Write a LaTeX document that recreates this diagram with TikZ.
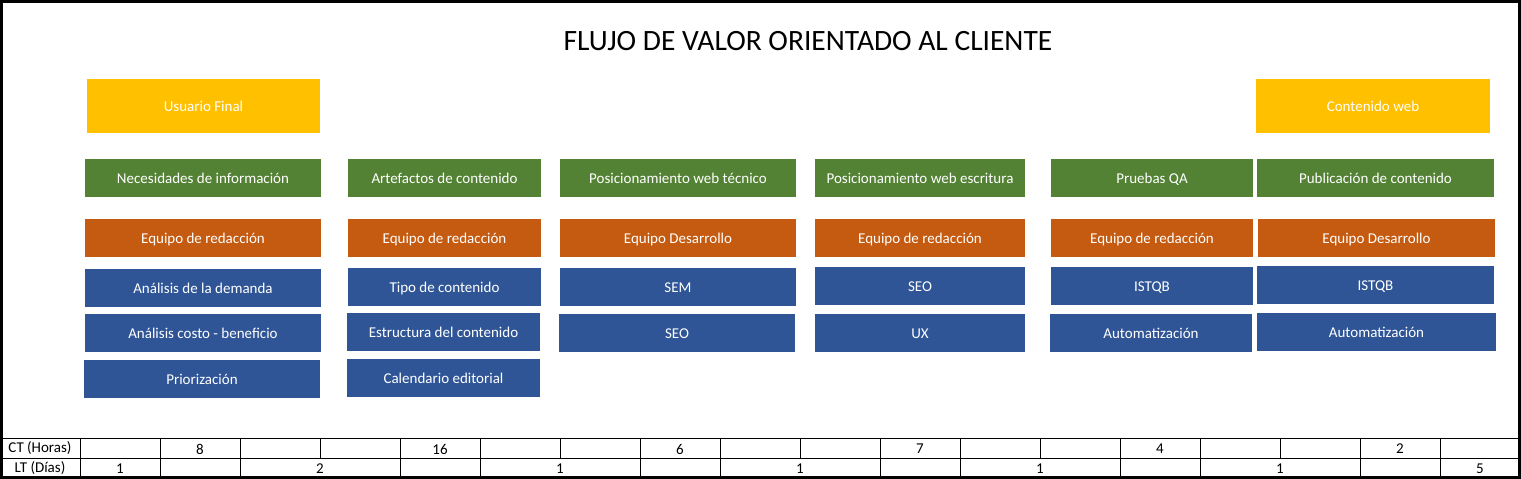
\documentclass[tikz,border=0pt]{standalone}
\usepackage{fontspec}
\setmainfont{Carlito}
\usetikzlibrary{positioning, calc}

\definecolor{amarillo}{RGB}{255,192,0}
\definecolor{verde}{RGB}{84,130,53}
\definecolor{naranja}{RGB}{197,90,17}
\definecolor{azul}{RGB}{47,85,151}

\tikzset{
	caja/.style={inner sep=0pt, text=white, text height=10pt, text depth=0pt,
		font=\fontsize{15}{17}\selectfont},
	cajaamarilla/.style={caja, fill=amarillo},
	cajaverde/.style={caja, fill=verde},
	cajanaranja/.style={caja, fill=naranja},
	cajaazul/.style={caja, fill=azul},
	celda/.style={inner sep=0pt, font=\fontsize{15}{17}\selectfont}
}

% \caja{estilo}{nombre}{x1}{y1}{x2}{y2}{texto}
\newcommand{\caja}[7]{%
	\pgfmathsetmacro\cw{#5-#3}\pgfmathsetmacro\ch{#6-#4}%
	\node [#1, minimum width=\cw pt, minimum height=\ch pt] (#2) at ({(#3+#5)/2},{(#4+#6)/2}) {#7};%
}

\begin{document}
\begin{tikzpicture}[x=1pt, y=-1pt]
\useasboundingbox (0,0) rectangle (1521,479);

\node [font=\fontsize{29.5}{34}\selectfont] (titulo) at (808,41.5) {FLUJO DE VALOR ORIENTADO AL CLIENTE};

\def\xa{85}\def\xb{321}
	\caja{cajaamarilla}{usuario}{87}{79}{320}{133}{Usuario Final}
	\caja{cajaverde}{necesidades}{\xa}{159}{\xb}{197}{Necesidades de información}
	\caja{cajanaranja}{equipoa}{\xa}{219}{\xb}{257}{Equipo de redacción}
	\caja{cajaazul}{demanda}{\xa}{269}{\xb}{307}{Análisis de la demanda}
	\caja{cajaazul}{costo}{\xa}{314}{\xb}{352}{Análisis costo - beneficio}
	\caja{cajaazul}{priorizacion}{84}{360}{320}{398}{Priorización}

\def\xa{348}\def\xb{541}
	\caja{cajaverde}{artefactos}{\xa}{159}{\xb}{197}{Artefactos de contenido}
	\caja{cajanaranja}{equipob}{\xa}{219}{\xb}{257}{Equipo de redacción}
	\caja{cajaazul}{tipo}{\xa}{268}{\xb}{306}{Tipo de contenido}
	\caja{cajaazul}{estructura}{347}{313}{540}{351}{Estructura del contenido}
	\caja{cajaazul}{calendario}{347}{359}{540}{397}{Calendario editorial}

\def\xa{560}\def\xb{796}
	\caja{cajaverde}{tecnico}{\xa}{159}{\xb}{197}{Posicionamiento web técnico}
	\caja{cajanaranja}{equipoc}{\xa}{219}{\xb}{257}{Equipo Desarrollo}
	\caja{cajaazul}{sem}{\xa}{268}{\xb}{306}{SEM}
	\caja{cajaazul}{seoa}{559}{314}{795}{352}{SEO}

\def\xa{815}\def\xb{1025}
	\caja{cajaverde}{escritura}{\xa}{159}{\xb}{197}{Posicionamiento web escritura}
	\caja{cajanaranja}{equipod}{\xa}{219}{\xb}{257}{Equipo de redacción}
	\caja{cajaazul}{seob}{\xa}{267}{\xb}{305}{SEO}
	\caja{cajaazul}{ux}{\xa}{314}{\xb}{352}{UX}

\def\xa{1051}\def\xb{1253}
	\caja{cajaverde}{pruebas}{\xa}{159}{\xb}{197}{Pruebas QA}
	\caja{cajanaranja}{equipoe}{\xa}{219}{\xb}{257}{Equipo de redacción}
	\caja{cajaazul}{istqba}{\xa}{267}{\xb}{305}{ISTQB}
	\caja{cajaazul}{autoa}{1050}{314}{1252}{352}{Automatización}

\def\xa{1257}\def\xb{1494}
	\caja{cajaamarilla}{contenido}{1256}{79}{1490}{133}{Contenido web}
	\caja{cajaverde}{publicacion}{\xa}{159}{\xb}{197}{Publicación de contenido}
	\caja{cajanaranja}{equipof}{1258}{219}{1495}{257}{Equipo Desarrollo}
	\caja{cajaazul}{istqbb}{\xa}{266}{\xb}{304}{ISTQB}
	\caja{cajaazul}{autob}{\xa}{313}{1496}{351}{Automatización}

% tabla de tiempos
	\draw (0,438) -- (1521,438);
	\draw (0,458) -- (1521,458);
	\foreach \x in {80,160,...,1440} \draw (\x,438) -- (\x,458);
	\foreach \x in {80,160,240,400,480,640,720,880,960,1120,1200,1360,1440} \draw (\x,458) -- (\x,478);
	\node [celda] (ct) at (40,448.5) {CT (Horas)};
	\node [celda] (lt) at (40,468.5) {LT (Días)};
	\foreach \v/\x [count=\i] in {8/200,16/440,6/680,7/920,4/1160,2/1400}
		\node [celda] (ct\i) at (\x,449) {\v};
	\foreach \v/\x [count=\i] in {1/120,2/320,1/560,1/800,1/1040,1/1280,5/1480}
		\node [celda] (lt\i) at (\x,469) {\v};

	\draw [line width=3pt] (1.5,1.5) rectangle (1519,477.5);
\end{tikzpicture}
\end{document}
